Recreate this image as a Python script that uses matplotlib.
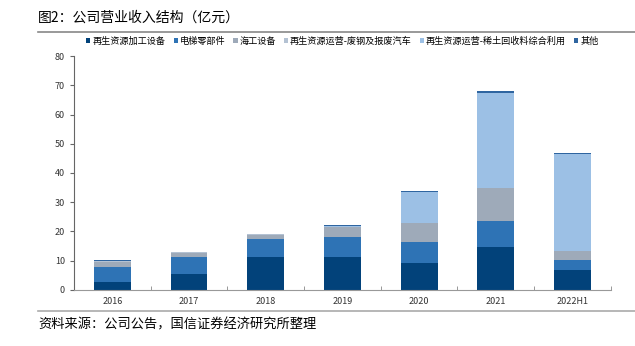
import matplotlib
matplotlib.use("Agg")
import matplotlib.pyplot as plt
from matplotlib.lines import Line2D
from matplotlib.patches import Patch
import numpy as np

plt.rcParams['font.family'] = ['Noto Sans CJK SC', 'DejaVu Sans']

years = ["2016", "2017", "2018", "2019", "2020", "2021", "2022H1"]
series_names = ["再生资源加工设备", "电梯零部件", "海工设备",
                "再生资源运营-废钢及报废汽车", "再生资源运营-稀土回收料综合利用", "其他"]
recycle_equip = [2.8, 5.4, 11.4, 11.2, 9.3, 14.8, 6.8]
elevator_parts = [5.0, 5.8, 5.9, 7.0, 7.1, 8.9, 3.5]
marine_equip = [1.9, 1.6, 1.6, 3.2, 6.4, 11.3, 2.9]
scrap_steel = [0.2, 0.1, 0.2, 0.3, 0.0, 0.0, 0.0]
rare_earth = [0.1, 0.0, 0.1, 0.2, 10.7, 32.5, 33.2]
other = [0.2, 0.2, 0.1, 0.2, 0.4, 0.4, 0.3]
colors = ["#02427A", "#2E73B5", "#9EAAB9", "#B4C2D3", "#9CC0E5", "#2F65A0"]

data = [recycle_equip, elevator_parts, marine_equip, scrap_steel, rare_earth, other]

fig = plt.figure(figsize=(6.35, 3.46), dpi=100)
ax = fig.add_axes([0.1165, 0.162, 0.8455, 0.676])

x = np.arange(len(years))
bottom = np.zeros(len(years))
for vals, c in zip(data, colors):
    ax.bar(x, vals, bottom=bottom, width=0.48, color=c, zorder=2)
    bottom += np.array(vals)

ax.set_xlim(-0.5, len(years) - 0.5)
ax.set_ylim(0, 80)
ax.set_yticks(range(0, 81, 10))
ax.set_xticks(x)
ax.set_xticklabels(years)
ax.set_xticks(np.arange(-0.5, len(years) + 0.5, 1), minor=True)
ax.tick_params(axis="x", which="major", length=0, labelsize=6.5, colors="#333333", pad=5)
ax.tick_params(axis="x", which="minor", length=3, direction="in", color="#888888")
ax.tick_params(axis="y", labelsize=6.5, colors="#333333", length=3, color="#666666")
for s in ["top", "right"]:
    ax.spines[s].set_visible(False)
ax.spines["left"].set_color("#666666")
ax.spines["bottom"].set_color("#999999")
ax.spines["left"].set_linewidth(0.8)
ax.spines["bottom"].set_linewidth(0.8)

handles = [Patch(facecolor=c, edgecolor="none") for c in colors]
leg = ax.legend(handles, series_names, ncol=6, loc="upper center",
                bbox_to_anchor=(0.5, 1.12), frameon=False, fontsize=6.6,
                handlelength=0.45, handleheight=0.45, handletextpad=0.2,
                columnspacing=0.9)

fig.text(0.06, 0.948, "图2：公司营业收入结构（亿元）", fontsize=10, va="center", ha="left")
fig.add_artist(Line2D([0.06, 1.0], [0.908, 0.908], color="#888888", lw=1.2))
fig.add_artist(Line2D([0.06, 1.0], [0.101, 0.101], color="#AAAAAA", lw=1.2))
fig.text(0.06, 0.06, "资料来源：公司公告，国信证券经济研究所整理", fontsize=9.5, va="center", ha="left")

fig.savefig("out.png", dpi=100)
